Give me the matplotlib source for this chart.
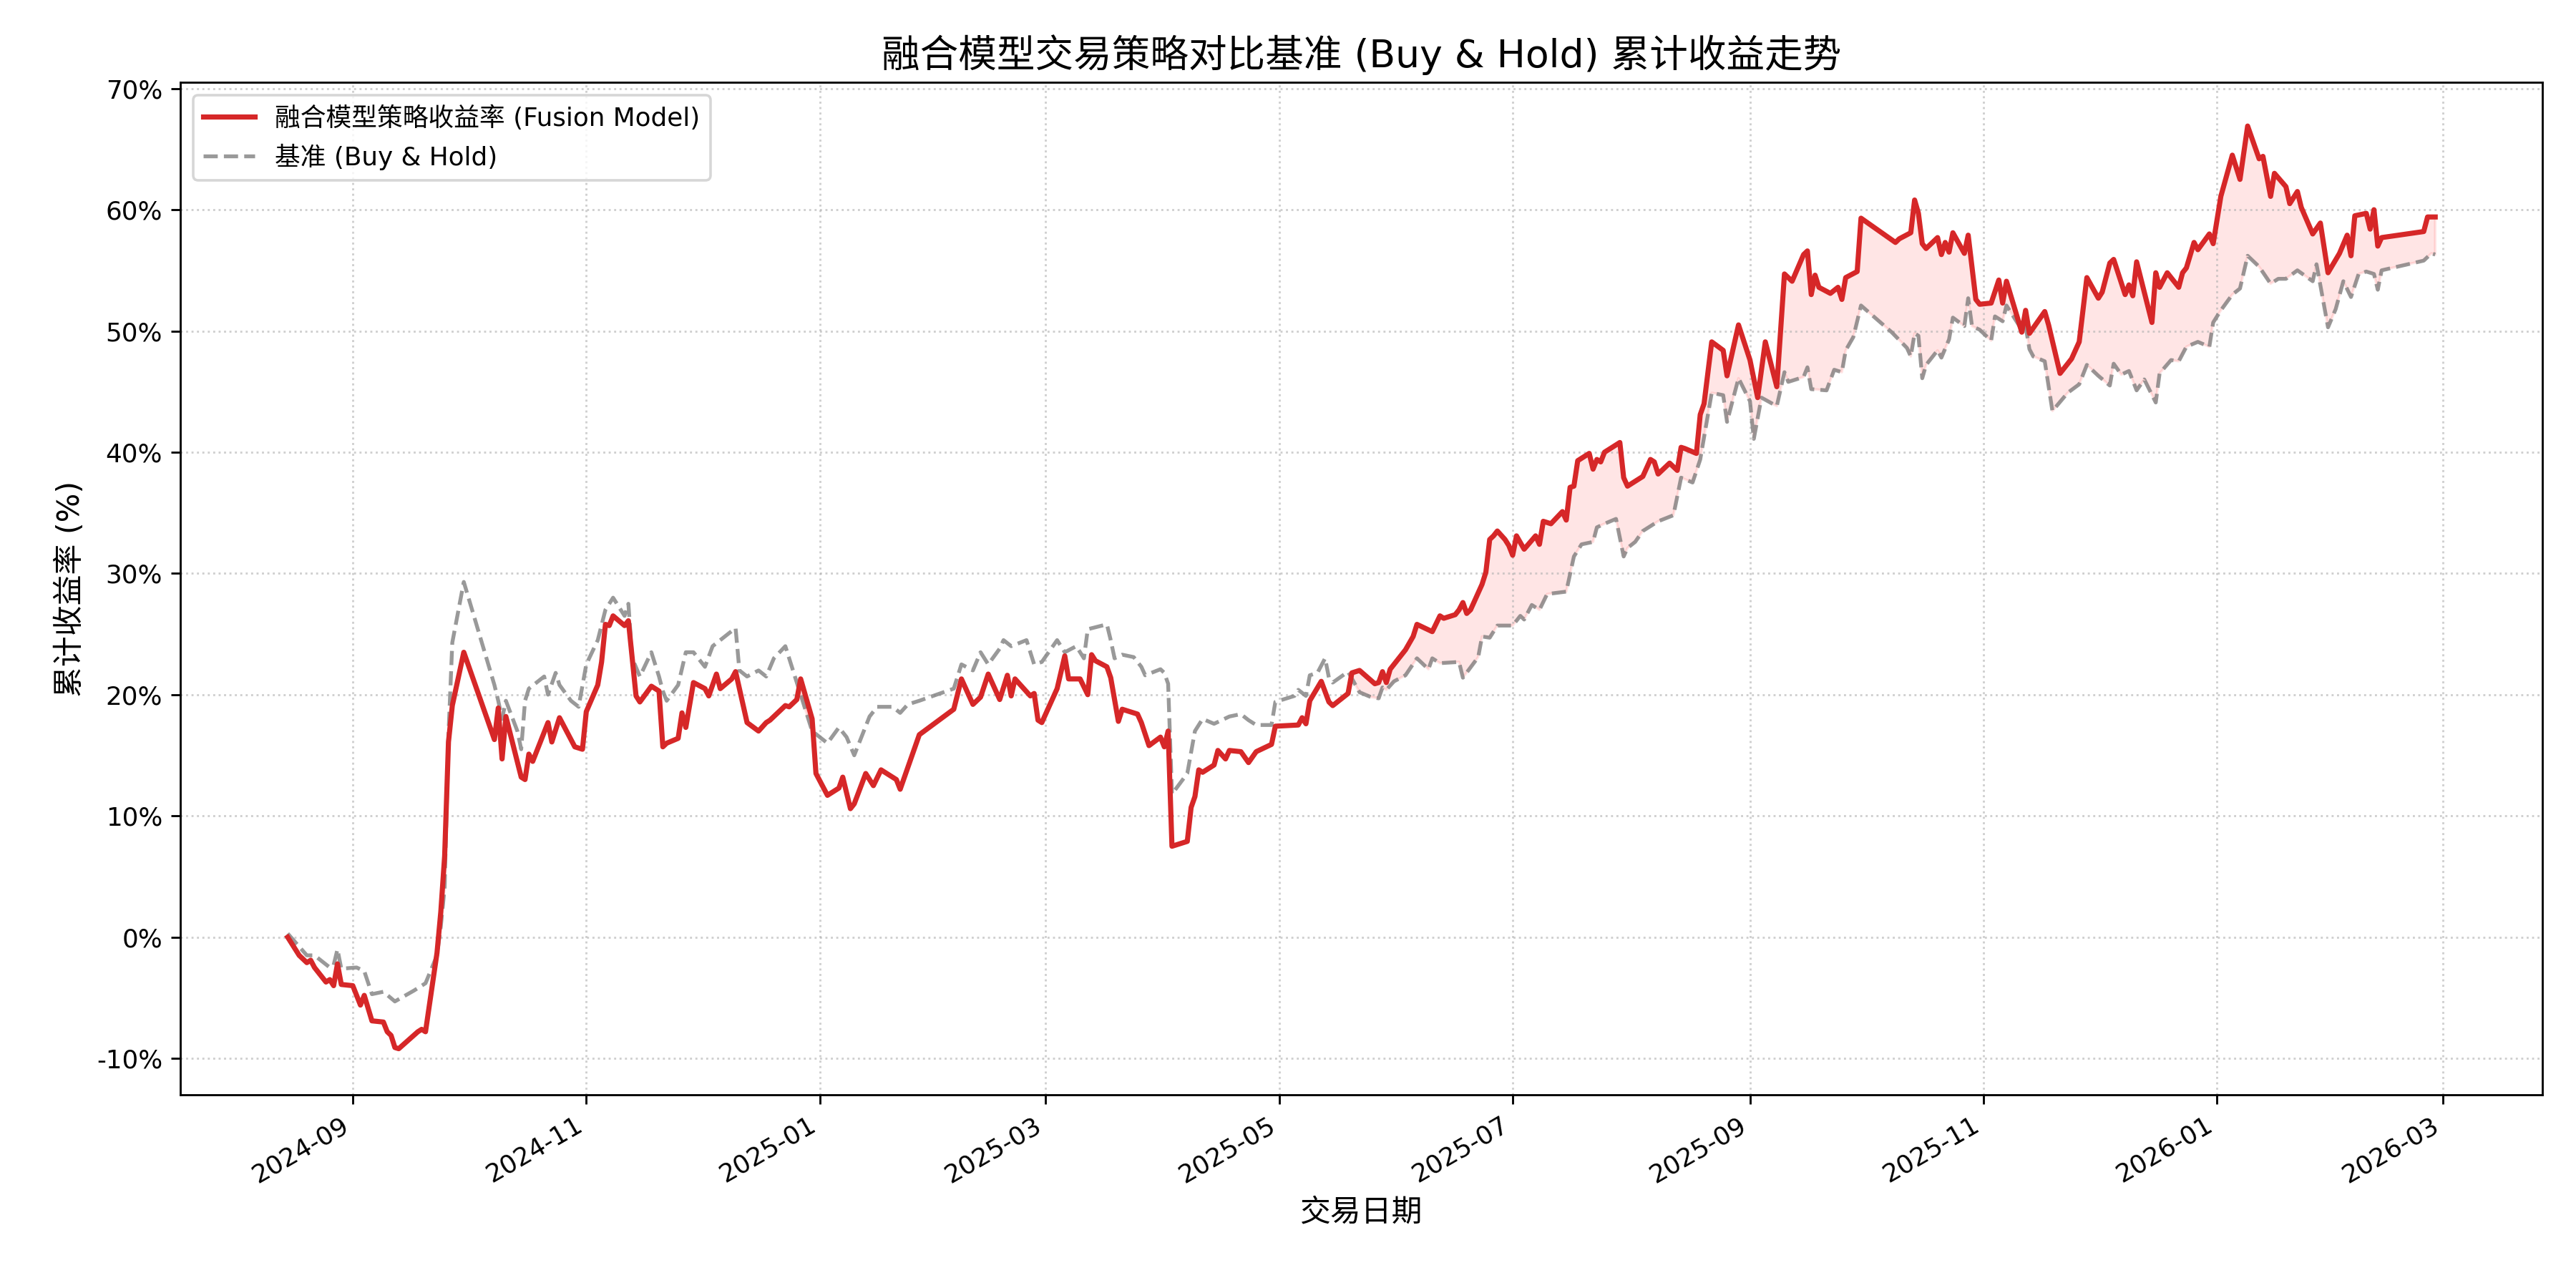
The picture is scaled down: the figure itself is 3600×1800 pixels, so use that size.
import numpy as np
import pandas as pd
import matplotlib
matplotlib.use('Agg')
import matplotlib.pyplot as plt
import matplotlib.dates as mdates

plt.rcParams['font.family'] = ['DejaVu Sans', 'Noto Sans CJK SC']
plt.rcParams['axes.unicode_minus'] = False

# ── Data ──────────────────────────────────────────────────────────────────────

strat_dates = [
    '2024-08-15', '2024-08-18', '2024-08-20', '2024-08-21', '2024-08-22', '2024-08-25', '2024-08-26',
    '2024-08-27', '2024-08-28', '2024-08-29', '2024-09-01', '2024-09-03', '2024-09-04', '2024-09-06',
    '2024-09-09', '2024-09-10', '2024-09-11', '2024-09-12', '2024-09-13', '2024-09-18', '2024-09-19',
    '2024-09-20', '2024-09-23', '2024-09-24', '2024-09-25', '2024-09-26', '2024-09-27', '2024-09-30',
    '2024-10-08', '2024-10-09', '2024-10-10', '2024-10-11', '2024-10-15', '2024-10-16', '2024-10-17',
    '2024-10-18', '2024-10-21', '2024-10-22', '2024-10-23', '2024-10-25', '2024-10-29', '2024-10-31',
    '2024-11-01', '2024-11-04', '2024-11-05', '2024-11-06', '2024-11-07', '2024-11-08', '2024-11-11',
    '2024-11-12', '2024-11-14', '2024-11-15', '2024-11-18', '2024-11-20', '2024-11-21', '2024-11-22',
    '2024-11-25', '2024-11-26', '2024-11-27', '2024-11-29', '2024-12-02', '2024-12-03', '2024-12-05',
    '2024-12-06', '2024-12-09', '2024-12-10', '2024-12-13', '2024-12-16', '2024-12-18', '2024-12-19',
    '2024-12-23', '2024-12-24', '2024-12-26', '2024-12-27', '2024-12-30', '2024-12-31', '2025-01-03',
    '2025-01-06', '2025-01-07', '2025-01-09', '2025-01-10', '2025-01-13', '2025-01-15', '2025-01-17',
    '2025-01-21', '2025-01-22', '2025-01-27', '2025-02-05', '2025-02-07', '2025-02-10', '2025-02-12',
    '2025-02-14', '2025-02-17', '2025-02-19', '2025-02-20', '2025-02-21', '2025-02-25', '2025-02-26',
    '2025-02-27', '2025-02-28', '2025-03-04', '2025-03-06', '2025-03-07', '2025-03-10', '2025-03-12',
    '2025-03-13', '2025-03-14', '2025-03-17', '2025-03-18', '2025-03-20', '2025-03-21', '2025-03-25',
    '2025-03-26', '2025-03-28', '2025-03-31', '2025-04-01', '2025-04-02', '2025-04-03', '2025-04-07',
    '2025-04-08', '2025-04-09', '2025-04-10', '2025-04-11', '2025-04-14', '2025-04-15', '2025-04-17',
    '2025-04-18', '2025-04-21', '2025-04-23', '2025-04-25', '2025-04-29', '2025-04-30', '2025-05-06',
    '2025-05-07', '2025-05-08', '2025-05-09', '2025-05-12', '2025-05-14', '2025-05-15', '2025-05-19',
    '2025-05-20', '2025-05-22', '2025-05-26', '2025-05-27', '2025-05-28', '2025-05-29', '2025-05-30',
    '2025-06-03', '2025-06-05', '2025-06-06', '2025-06-10', '2025-06-12', '2025-06-13', '2025-06-16',
    '2025-06-17', '2025-06-18', '2025-06-19', '2025-06-20', '2025-06-23', '2025-06-24', '2025-06-25',
    '2025-06-26', '2025-06-27', '2025-06-29', '2025-06-30', '2025-07-01', '2025-07-02', '2025-07-04',
    '2025-07-07', '2025-07-08', '2025-07-09', '2025-07-11', '2025-07-14', '2025-07-15', '2025-07-16',
    '2025-07-17', '2025-07-18', '2025-07-21', '2025-07-22', '2025-07-23', '2025-07-24', '2025-07-25',
    '2025-07-29', '2025-07-30', '2025-07-31', '2025-08-04', '2025-08-06', '2025-08-07', '2025-08-08',
    '2025-08-11', '2025-08-13', '2025-08-14', '2025-08-15', '2025-08-18', '2025-08-19', '2025-08-20',
    '2025-08-22', '2025-08-25', '2025-08-26', '2025-08-29', '2025-09-01', '2025-09-03', '2025-09-05',
    '2025-09-08', '2025-09-10', '2025-09-12', '2025-09-15', '2025-09-16', '2025-09-17', '2025-09-18',
    '2025-09-19', '2025-09-22', '2025-09-24', '2025-09-25', '2025-09-26', '2025-09-29', '2025-09-30',
    '2025-10-09', '2025-10-10', '2025-10-13', '2025-10-14', '2025-10-15', '2025-10-16', '2025-10-17',
    '2025-10-20', '2025-10-21', '2025-10-22', '2025-10-23', '2025-10-24', '2025-10-27', '2025-10-28',
    '2025-10-30', '2025-10-31', '2025-11-03', '2025-11-05', '2025-11-06', '2025-11-07', '2025-11-11',
    '2025-11-12', '2025-11-13', '2025-11-17', '2025-11-18', '2025-11-21', '2025-11-24', '2025-11-26',
    '2025-11-28', '2025-12-01', '2025-12-02', '2025-12-04', '2025-12-05', '2025-12-08', '2025-12-09',
    '2025-12-10', '2025-12-11', '2025-12-15', '2025-12-16', '2025-12-17', '2025-12-19', '2025-12-22',
    '2025-12-23', '2025-12-24', '2025-12-26', '2025-12-27', '2025-12-30', '2025-12-31', '2026-01-02',
    '2026-01-05', '2026-01-07', '2026-01-09', '2026-01-12', '2026-01-13', '2026-01-15', '2026-01-16',
    '2026-01-19', '2026-01-20', '2026-01-22', '2026-01-23', '2026-01-26', '2026-01-28', '2026-01-30',
    '2026-02-02', '2026-02-04', '2026-02-05', '2026-02-06', '2026-02-09', '2026-02-10', '2026-02-11',
    '2026-02-12', '2026-02-13', '2026-02-24', '2026-02-25', '2026-02-27',
]
strat_ret = [
    0.0, -1.5, -2.1, -1.9, -2.5, -3.7, -3.5,
    -4.0, -2.2, -3.9, -4.0, -5.6, -4.8, -6.9,
    -7.0, -7.8, -8.1, -9.1, -9.2, -7.8, -7.6,
    -7.8, -1.3, 2.1, 6.7, 16.1, 19.1, 23.5,
    16.3, 18.9, 14.7, 18.2, 13.2, 13.0, 15.1,
    14.5, 16.9, 17.7, 16.1, 18.1, 15.7, 15.5,
    18.6, 20.8, 22.7, 25.8, 25.7, 26.5, 25.7,
    26.1, 19.9, 19.4, 20.7, 20.3, 15.7, 16.0,
    16.4, 18.5, 17.3, 21.0, 20.5, 19.9, 21.7,
    20.5, 21.3, 21.9, 17.7, 17.0, 17.7, 17.9,
    19.1, 19.0, 19.6, 21.3, 18.0, 13.5, 11.7,
    12.3, 13.2, 10.6, 11.0, 13.5, 12.5, 13.8,
    13.0, 12.2, 16.7, 18.8, 21.3, 19.2, 19.8,
    21.7, 19.6, 21.6, 19.9, 21.3, 19.9, 20.1,
    17.9, 17.7, 20.5, 23.2, 21.3, 21.3, 20.0,
    23.3, 22.8, 22.3, 21.4, 17.8, 18.8, 18.4,
    17.7, 15.8, 16.5, 15.7, 17.0, 7.5, 7.9,
    10.7, 11.6, 13.8, 13.6, 14.2, 15.4, 14.7,
    15.4, 15.3, 14.4, 15.3, 15.9, 17.4, 17.5,
    18.1, 17.6, 19.5, 21.1, 19.4, 19.1, 20.1,
    21.8, 22.0, 20.9, 21.0, 21.9, 21.0, 22.1,
    23.7, 24.8, 25.8, 25.2, 26.5, 26.3, 26.6,
    27.0, 27.6, 26.7, 27.0, 29.1, 30.1, 32.8,
    33.1, 33.5, 32.8, 32.3, 31.5, 33.1, 32.0,
    33.1, 32.4, 34.3, 34.1, 35.1, 34.4, 37.1,
    37.2, 39.3, 39.9, 38.6, 39.4, 39.2, 40.0,
    40.8, 37.9, 37.2, 38.0, 39.4, 39.2, 38.2,
    39.1, 38.5, 40.4, 40.3, 39.9, 43.1, 44.0,
    49.1, 48.4, 46.3, 50.5, 47.6, 44.5, 49.1,
    45.4, 54.7, 54.1, 56.3, 56.6, 53.0, 54.6,
    53.6, 53.1, 53.6, 52.6, 54.4, 54.9, 59.3,
    57.3, 57.6, 58.1, 60.8, 59.7, 57.2, 56.8,
    57.7, 56.3, 57.3, 56.5, 58.1, 56.4, 57.9,
    52.6, 52.2, 52.3, 54.2, 52.3, 54.1, 49.9,
    51.7, 49.8, 51.6, 50.5, 46.5, 47.7, 49.1,
    54.4, 52.7, 53.2, 55.6, 55.9, 53.0, 53.8,
    52.9, 55.7, 50.7, 54.8, 53.6, 54.8, 53.6,
    54.8, 55.2, 57.3, 56.7, 58.0, 57.2, 61.1,
    64.5, 62.5, 66.9, 64.2, 64.4, 61.1, 63.0,
    61.9, 60.5, 61.5, 60.2, 58.0, 58.9, 54.8,
    56.4, 57.9, 56.2, 59.5, 59.7, 58.4, 60.0,
    57.0, 57.7, 58.2, 59.4, 59.4,
]

bench_dates = [
    '2024-08-15', '2024-08-20', '2024-08-22', '2024-08-26', '2024-08-27', '2024-08-28', '2024-08-29',
    '2024-09-02', '2024-09-04', '2024-09-06', '2024-09-09', '2024-09-12', '2024-09-17', '2024-09-20',
    '2024-09-23', '2024-09-24', '2024-09-25', '2024-09-26', '2024-09-27', '2024-09-30', '2024-10-08',
    '2024-10-09', '2024-10-10', '2024-10-11', '2024-10-14', '2024-10-15', '2024-10-16', '2024-10-17',
    '2024-10-21', '2024-10-22', '2024-10-24', '2024-10-25', '2024-10-28', '2024-10-30', '2024-11-01',
    '2024-11-04', '2024-11-06', '2024-11-07', '2024-11-08', '2024-11-11', '2024-11-12', '2024-11-13',
    '2024-11-15', '2024-11-18', '2024-11-20', '2024-11-21', '2024-11-22', '2024-11-25', '2024-11-27',
    '2024-11-29', '2024-12-02', '2024-12-04', '2024-12-10', '2024-12-11', '2024-12-13', '2024-12-16',
    '2024-12-18', '2024-12-20', '2024-12-23', '2024-12-25', '2024-12-30', '2025-01-03', '2025-01-06',
    '2025-01-08', '2025-01-10', '2025-01-14', '2025-01-16', '2025-01-20', '2025-01-22', '2025-01-24',
    '2025-01-27', '2025-02-05', '2025-02-07', '2025-02-10', '2025-02-12', '2025-02-14', '2025-02-17',
    '2025-02-18', '2025-02-20', '2025-02-24', '2025-02-26', '2025-02-28', '2025-03-04', '2025-03-06',
    '2025-03-09', '2025-03-11', '2025-03-12', '2025-03-17', '2025-03-18', '2025-03-19', '2025-03-21',
    '2025-03-24', '2025-03-26', '2025-03-27', '2025-03-31', '2025-04-01', '2025-04-02', '2025-04-03',
    '2025-04-07', '2025-04-09', '2025-04-11', '2025-04-14', '2025-04-16', '2025-04-18', '2025-04-21',
    '2025-04-23', '2025-04-25', '2025-04-29', '2025-04-30', '2025-05-05', '2025-05-06', '2025-05-08',
    '2025-05-09', '2025-05-11', '2025-05-13', '2025-05-14', '2025-05-15', '2025-05-19', '2025-05-22',
    '2025-05-25', '2025-05-27', '2025-05-28', '2025-05-29', '2025-05-31', '2025-06-03', '2025-06-06',
    '2025-06-09', '2025-06-10', '2025-06-12', '2025-06-17', '2025-06-18', '2025-06-22', '2025-06-23',
    '2025-06-25', '2025-06-27', '2025-07-01', '2025-07-03', '2025-07-04', '2025-07-06', '2025-07-08',
    '2025-07-10', '2025-07-15', '2025-07-17', '2025-07-19', '2025-07-22', '2025-07-23', '2025-07-25',
    '2025-07-28', '2025-07-30', '2025-07-31', '2025-08-02', '2025-08-04', '2025-08-07', '2025-08-08',
    '2025-08-12', '2025-08-14', '2025-08-17', '2025-08-19', '2025-08-22', '2025-08-25', '2025-08-26',
    '2025-08-29', '2025-09-01', '2025-09-02', '2025-09-04', '2025-09-08', '2025-09-10', '2025-09-11',
    '2025-09-15', '2025-09-16', '2025-09-17', '2025-09-21', '2025-09-23', '2025-09-25', '2025-09-26',
    '2025-09-28', '2025-09-30', '2025-10-08', '2025-10-12', '2025-10-13', '2025-10-14', '2025-10-15',
    '2025-10-16', '2025-10-17', '2025-10-20', '2025-10-21', '2025-10-23', '2025-10-24', '2025-10-27',
    '2025-10-28', '2025-10-29', '2025-10-31', '2025-11-03', '2025-11-04', '2025-11-06', '2025-11-07',
    '2025-11-11', '2025-11-12', '2025-11-13', '2025-11-14', '2025-11-17', '2025-11-19', '2025-11-23',
    '2025-11-26', '2025-11-28', '2025-12-01', '2025-12-04', '2025-12-05', '2025-12-07', '2025-12-09',
    '2025-12-11', '2025-12-13', '2025-12-16', '2025-12-17', '2025-12-20', '2025-12-22', '2025-12-24',
    '2025-12-27', '2025-12-30', '2025-12-31', '2026-01-02', '2026-01-05', '2026-01-07', '2026-01-09',
    '2026-01-12', '2026-01-15', '2026-01-17', '2026-01-19', '2026-01-22', '2026-01-26', '2026-01-27',
    '2026-01-30', '2026-02-01', '2026-02-03', '2026-02-05', '2026-02-07', '2026-02-09', '2026-02-11',
    '2026-02-12', '2026-02-13', '2026-02-24', '2026-02-26', '2026-02-27',
]
bench_ret = [
    0.3, -1.5, -1.5, -2.5, -2.3, -1.0, -2.6,
    -2.5, -2.8, -4.7, -4.5, -5.3, -4.4, -3.8,
    -1.5, 0.9, 4.1, 16.7, 24.3, 29.3, 20.8,
    19.5, 18.0, 19.5, 17.0, 15.5, 19.5, 20.5,
    21.5, 20.0, 21.8, 20.8, 19.5, 19.0, 22.5,
    24.5, 27.0, 27.5, 28.0, 26.5, 27.5, 23.0,
    21.5, 23.5, 21.5, 20.3, 19.5, 20.8, 23.5,
    23.5, 22.3, 24.0, 25.5, 22.0, 21.5, 22.0,
    21.5, 23.0, 24.0, 22.0, 17.0, 16.0, 17.3,
    16.5, 15.0, 18.2, 19.0, 19.0, 18.5, 19.2,
    19.5, 20.5, 22.5, 22.0, 23.5, 22.5, 23.8,
    24.5, 24.0, 24.5, 22.5, 22.7, 24.5, 23.5,
    24.0, 23.0, 25.4, 25.8, 24.5, 23.0, 23.3,
    23.1, 22.3, 21.6, 22.1, 21.8, 20.9, 11.8,
    13.5, 17.0, 18.0, 17.6, 17.9, 18.2, 18.4,
    17.9, 17.5, 17.5, 19.4, 19.9, 20.4, 19.9,
    21.6, 21.8, 23.0, 21.4, 21.0, 21.9, 20.2,
    19.8, 19.7, 20.6, 20.4, 21.1, 21.6, 23.0,
    22.1, 23.0, 22.6, 22.7, 21.4, 23.1, 24.8,
    24.7, 25.7, 25.7, 26.5, 26.2, 27.4, 27.0,
    28.3, 28.5, 31.4, 32.4, 32.6, 33.8, 34.1,
    34.5, 31.4, 32.1, 32.6, 33.5, 34.1, 34.3,
    34.8, 37.9, 37.5, 39.4, 44.9, 44.7, 42.5,
    46.1, 44.2, 41.1, 44.5, 43.8, 46.6, 45.8,
    46.2, 47.0, 45.2, 45.1, 46.8, 46.6, 48.4,
    49.5, 52.1, 49.9, 48.6, 47.9, 49.8, 49.6,
    46.1, 47.2, 48.4, 47.8, 49.3, 51.1, 50.4,
    52.7, 50.4, 50.1, 49.2, 51.2, 50.8, 52.1,
    50.1, 50.4, 48.5, 47.9, 47.5, 43.4, 44.9,
    45.6, 47.2, 46.3, 45.5, 47.3, 46.4, 46.7,
    45.1, 46.0, 44.1, 46.5, 47.6, 47.5, 48.7,
    49.1, 48.7, 50.7, 51.7, 53.0, 53.5, 56.2,
    55.3, 53.9, 54.3, 54.3, 55.0, 54.1, 55.5,
    50.3, 51.8, 54.1, 52.8, 54.7, 54.9, 54.7,
    53.4, 55.0, 55.8, 56.4, 56.3,
]

title = '融合模型交易策略对比基准 (Buy & Hold) 累计收益走势'
strat_label = '融合模型策略收益率 (Fusion Model)'
bench_label = '基准 (Buy & Hold)'
x_label = '交易日期'
y_label = '累计收益率 (%)'

# ── Plot ──────────────────────────────────────────────────────────────────────

s_dt = pd.to_datetime(strat_dates)
b_dt = pd.to_datetime(bench_dates)
s_val = np.array(strat_ret)
b_val = np.array(bench_ret)

# common grid only for the shaded outperformance band
grid_dt = s_dt.union(b_dt)
gnum = mdates.date2num(grid_dt)
s_g = np.interp(gnum, mdates.date2num(s_dt), s_val)
b_g = np.interp(gnum, mdates.date2num(b_dt), b_val)

fig, ax = plt.subplots(figsize=(14, 7), dpi=257.15)
ax.plot(s_dt, s_val, color='#d62728', lw=2, label=strat_label, zorder=3)
ax.plot(b_dt, b_val, color='gray', lw=1.5, ls='--', alpha=0.8, label=bench_label, zorder=2)
ax.fill_between(grid_dt, s_g, b_g, where=s_g > b_g, interpolate=True,
                color='red', alpha=0.1, zorder=1)

ax.set_title(title, fontsize=15)
ax.set_xlabel(x_label, fontsize=12)
ax.set_ylabel(y_label, fontsize=12)
ax.yaxis.set_major_formatter(plt.FuncFormatter(lambda v, _: f'{v:.0f}%'))
ax.set_yticks(np.arange(-10, 71, 10))
ax.set_ylim(-13, 70.5)
ax.xaxis.set_major_locator(mdates.MonthLocator(bymonth=[1, 3, 5, 7, 9, 11]))
ax.xaxis.set_major_formatter(mdates.DateFormatter('%Y-%m'))
ax.grid(True, ls=':', alpha=0.6)
ax.legend(loc='upper left', fontsize=10)
fig.autofmt_xdate()
fig.subplots_adjust(left=0.070, right=0.987, top=0.936, bottom=0.150)
fig.savefig('out.png')
